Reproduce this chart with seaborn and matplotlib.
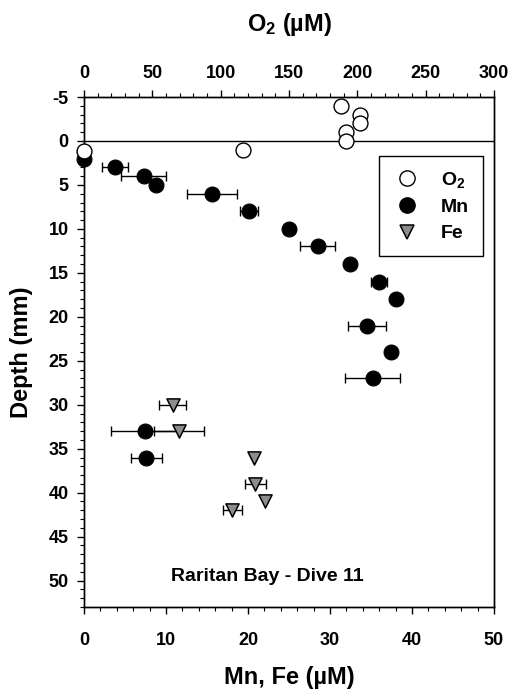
import numpy as np
import pandas as pd
import matplotlib
matplotlib.use("Agg")
import matplotlib.pyplot as plt
from matplotlib.ticker import MultipleLocator
from matplotlib.lines import Line2D
import seaborn as sns

# ---- data ----
o2_depth = [-4, -3, -2, -1, 0, 1, 1.1]
o2_conc = [188, 202, 202, 192, 192, 116, 0]

mn_depth = [2, 3, 4, 5, 6, 8, 10, 12, 14, 16, 18, 21, 24, 27, 33, 36]
mn_conc = [0, 3.8, 7.3, 8.8, 15.6, 20.1, 25.0, 28.5, 32.4, 36.0, 38.1, 34.5, 37.4, 35.2, 7.4, 7.6]
mn_err = [0, 1.6, 2.75, 0, 3.0, 1.1, 0, 2.1, 0, 0.95, 0, 2.3, 0, 3.35, 4.1, 1.9]

fe_depth = [30, 33, 36, 39, 41, 42]
fe_conc = [10.8, 11.6, 20.7, 20.9, 22.1, 18.1]
fe_err = [1.6, 3.05, 0, 1.25, 0, 1.2]

mnfe_ticks = [0, 10, 20, 30, 40, 50]
o2_ticks = [0, 50, 100, 150, 200, 250, 300]
depth_ticks = [-5, 0, 5, 10, 15, 20, 25, 30, 35, 40, 45, 50]

sns.set_theme(style="ticks")
plt.rcParams['font.family'] = ['Liberation Sans', 'DejaVu Sans']
plt.rcParams['font.weight'] = 'bold'
plt.rcParams['axes.unicode_minus'] = False
plt.rcParams['text.color'] = 'black'
plt.rcParams['axes.labelcolor'] = 'black'
plt.rcParams['xtick.color'] = 'black'
plt.rcParams['ytick.color'] = 'black'
plt.rcParams['mathtext.fontset'] = 'custom'
plt.rcParams['mathtext.rm'] = 'Liberation Sans:bold'
plt.rcParams['mathtext.it'] = 'Liberation Sans:bold'
plt.rcParams['mathtext.bf'] = 'Liberation Sans:bold'

fig = plt.figure(figsize=(5.14, 6.93), dpi=100)
ax = fig.add_axes([84/514, 1-607/693, 410/514, 510/693])

mn_df = pd.DataFrame({"conc": mn_conc, "depth": mn_depth, "err": mn_err})
fe_df = pd.DataFrame({"conc": fe_conc, "depth": fe_depth, "err": fe_err})
o2_df = pd.DataFrame({"conc": o2_conc, "depth": o2_depth})

# error bars
for df in (mn_df, fe_df):
    d = df[df["err"] > 0]
    ax.errorbar(d["conc"], d["depth"], xerr=d["err"], fmt='none', ecolor='black',
                elinewidth=1.0, capsize=3.5, capthick=1.0, zorder=2)

sns.scatterplot(data=mn_df, x="conc", y="depth", ax=ax, marker='o', s=115,
                color='black', edgecolor='black', linewidth=0.8, zorder=3, legend=False)
ax.collections[-1].set_clip_on(False)
sns.scatterplot(data=fe_df, x="conc", y="depth", ax=ax, marker='v', s=90,
                color='#8c8c8c', edgecolor='black', linewidth=1.1, zorder=3, legend=False)
ax.collections[-1].set_clip_on(False)

ax.axhline(0, color='black', linewidth=1.0, zorder=1)

ax.set_xlim(0, 50)
ax.set_ylim(53, -5)
ax.set_xticks(mnfe_ticks)
ax.set_yticks(depth_ticks)
ax.xaxis.set_minor_locator(MultipleLocator(2))
ax.yaxis.set_minor_locator(MultipleLocator(1))
ax.tick_params(axis='both', which='major', direction='out', length=5, width=1,
               labelsize=13, colors='black')
ax.tick_params(axis='both', which='minor', direction='out', length=3, width=0.8)
ax.tick_params(axis='x', which='major', pad=13)
ax.tick_params(axis='y', which='major', pad=6)
ax.tick_params(axis='y', which='both', right=False)
for lab in ax.get_xticklabels() + ax.get_yticklabels():
    lab.set_fontweight('bold')
ax.set_xlabel("Mn, Fe (\u00b5M)", fontsize=17, fontweight='bold', labelpad=12, color='black')
ax.set_ylabel("Depth (mm)", fontsize=17, fontweight='bold', labelpad=11, color='black')
for sp in ax.spines.values():
    sp.set_visible(True)
    sp.set_color('black')
    sp.set_linewidth(1.0)

# top axis for O2
ax2 = ax.twiny()
sns.scatterplot(data=o2_df, x="conc", y="depth", ax=ax2, marker='o', s=115,
                color='white', edgecolor='black', linewidth=1.0, zorder=3, legend=False)
ax2.collections[-1].set_clip_on(False)
ax2.set_xlim(0, 300)
ax2.set_ylim(53, -5)
ax2.set_xticks(o2_ticks)
ax2.xaxis.set_minor_locator(MultipleLocator(10))
ax2.tick_params(axis='x', which='major', direction='out', length=5, width=1,
                labelsize=13, pad=6, colors='black')
ax2.tick_params(axis='x', which='minor', direction='out', length=3, width=0.8)
for lab in ax2.get_xticklabels():
    lab.set_fontweight('bold')
ax2.set_xlabel("O$_2$ (\u00b5M)", fontsize=17, fontweight='bold', labelpad=24, color='black')
ax2.set_ylabel("")
for sp in ax2.spines.values():
    sp.set_color('black')
    sp.set_linewidth(1.0)

ax.text(22.4, 49.5, "Raritan Bay - Dive 11", ha='center', va='center',
        fontsize=14, fontweight='bold', color='black', zorder=4)

handles = [
    Line2D([], [], linestyle='none', marker='o', markersize=11, markerfacecolor='white',
           markeredgecolor='black', markeredgewidth=1.0),
    Line2D([], [], linestyle='none', marker='o', markersize=11, markerfacecolor='black',
           markeredgecolor='black'),
    Line2D([], [], linestyle='none', marker='v', markersize=9.5, markerfacecolor='#8c8c8c',
           markeredgecolor='black', markeredgewidth=1.1),
]
leg = ax2.legend(handles, ["O$_2$", "Mn", "Fe"], loc='upper right',
                 bbox_to_anchor=(0.972, 0.884), frameon=True, fancybox=False,
                 edgecolor='black', framealpha=1, prop={'size': 14, 'weight': 'bold'},
                 borderpad=0.7, labelspacing=0.45, handletextpad=1.0, handlelength=1.5,
                 borderaxespad=0)
leg.get_frame().set_linewidth(1.0)
for t in leg.get_texts():
    t.set_color('black')

fig.savefig("out.png", dpi=100, facecolor='white')
